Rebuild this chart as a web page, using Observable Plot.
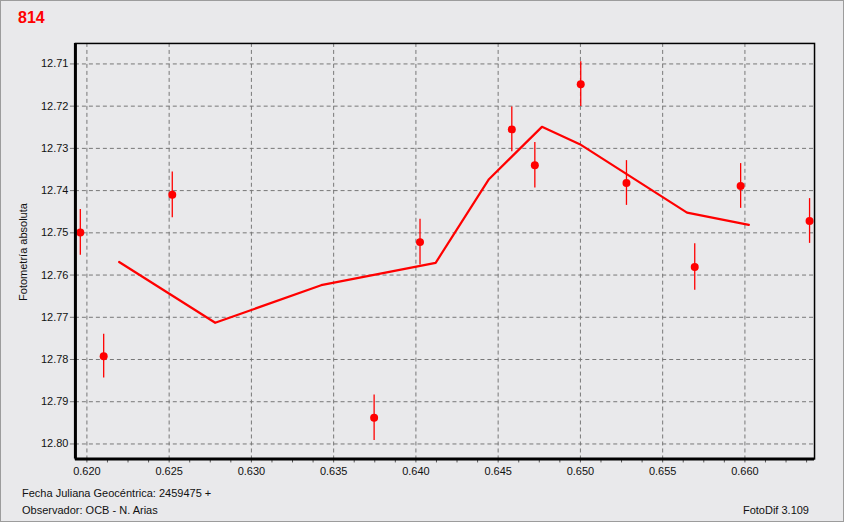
<!DOCTYPE html>
<html>
<head>
<meta charset="utf-8">
<script src="https://cdn.jsdelivr.net/npm/d3@7"></script>
<script src="https://cdn.jsdelivr.net/npm/@observablehq/plot@0.6"></script>
<style>
  html, body { margin: 0; padding: 0; background: #e9e9eb; }
  #wrap { position: relative; width: 842px; height: 520px; border: 1px solid #9c9c9c; background: #e9e9eb; overflow: hidden;
          font-family: "Liberation Sans", Arial, sans-serif; color: #111; }
  #chart { position: absolute; left: -1px; top: -1px; }
  .txt { position: absolute; white-space: nowrap; font-size: 11px; line-height: 11px; }
  #title { position: absolute; left: 17px; top: 9px; font-size: 16px; line-height: 16px; font-weight: bold; color: #ff0000; }
  #ylab { position: absolute; left: 22px; top: 251px; font-size: 11px; line-height: 11px; white-space: nowrap;
          transform: translate(-50%, -50%) rotate(-90deg); }
</style>
</head>
<body>
<div id="wrap">
  <div id="chart"></div>
  <div id="title">814</div>
  <div id="ylab">Fotometría absoluta</div>
  <div class="txt" style="left:21px; top:487px;">Fecha Juliana Geocéntrica: 2459475 +</div>
  <div class="txt" style="left:21px; top:504px;">Observador: OCB - N. Arias</div>
  <div class="txt" style="right:34px; top:504px;">FotoDif 3.109</div>
</div>
<script>
// Observed points (JD fraction, magnitude, error)
const jd  = [0.6196, 0.62102, 0.62519, 0.63746, 0.64025, 0.64583, 0.64723, 0.65002, 0.6528, 0.65695, 0.65974, 0.66393];
const mag = [12.7499, 12.7792, 12.7410, 12.7938, 12.7522, 12.7255, 12.7340, 12.7148, 12.7382, 12.7581, 12.7389, 12.7472];
const err = [0.0054, 0.0052, 0.0054, 0.0054, 0.0054, 0.0053, 0.0054, 0.0053, 0.0053, 0.0055, 0.0053, 0.0053];

// Fitted curve
const fitJd  = [0.62196, 0.62780, 0.63424, 0.64120, 0.64444, 0.64766, 0.64996, 0.65648, 0.66024];
const fitMag = [12.7569, 12.7713, 12.7624, 12.7571, 12.7373, 12.7249, 12.7290, 12.7452, 12.7481];

// Tick labels
const xTicks = [0.620, 0.625, 0.630, 0.635, 0.640, 0.645, 0.650, 0.655, 0.660];
const yTicks = [12.71, 12.72, 12.73, 12.74, 12.75, 12.76, 12.77, 12.78, 12.79, 12.80];
const xMinor = d3.range(-1, 38).map(k => +(0.62 + k * 0.00125).toFixed(5)).filter(v => v > 0.6193 && v < 0.6642);

const obs = jd.map((x, i) => ({x, y: mag[i], y1: mag[i] - err[i], y2: mag[i] + err[i]}));
const fit = fitJd.map((x, i) => ({x, y: fitMag[i]}));

const xDom = [0.619302, 0.664232];
const yDom = [12.70515, 12.80355];

const grid = {stroke: "#777", strokeOpacity: 1, strokeDasharray: "4,3", strokeWidth: 1};

const chart = Plot.plot({
  width: 844, height: 522,
  marginLeft: 75, marginRight: 29, marginTop: 43, marginBottom: 63,
  style: {background: "transparent", fontFamily: "'Liberation Sans', Arial, sans-serif", fontSize: "11px", color: "#111"},
  x: {domain: xDom},
  y: {domain: yDom, reverse: true},
  marks: [
    Plot.gridX(xTicks, grid),
    Plot.gridY(yTicks, grid),
    Plot.axisX(xMinor, {tickSize: 4, text: null, stroke: "#555", label: null}),
    Plot.axisX(xTicks, {tickSize: 0, tickPadding: 8, tickFormat: d => d.toFixed(3), label: null}),
    Plot.axisY(yTicks, {tickSize: 5, tickPadding: 2, stroke: "#777", tickFormat: d => d.toFixed(2), label: null}),
    Plot.line(fit, {x: "x", y: "y", stroke: "#ff0000", strokeWidth: 2.2}),
    Plot.ruleX(obs, {x: "x", y1: "y1", y2: "y2", stroke: "#ff0000", strokeWidth: 1.3}),
    Plot.dot(obs, {x: "x", y: "y", r: 4, fill: "#ff0000"}),
    Plot.frame({stroke: "#000", strokeWidth: 1.5}),
    Plot.ruleX([xDom[0]], {stroke: "#000", strokeWidth: 3}),
    Plot.ruleY([yDom[1]], {stroke: "#000", strokeWidth: 3})
  ]
});
document.getElementById("chart").appendChild(chart);
</script>
</body>
</html>
